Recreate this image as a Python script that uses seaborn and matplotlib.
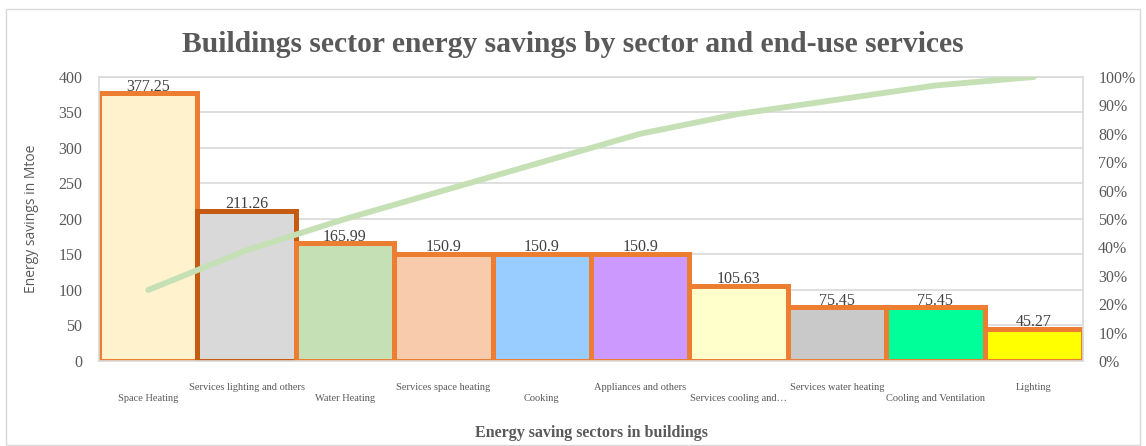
import numpy as np
import pandas as pd
import seaborn as sns
import matplotlib.pyplot as plt
from matplotlib.patches import Rectangle
from matplotlib.ticker import PercentFormatter

sectors = ["Space Heating", "Services lighting and others", "Water Heating",
           "Services space heating", "Cooking", "Appliances and others",
           "Services cooling and\u2026", "Services water heating",
           "Cooling and Ventilation", "Lighting"]
savings = [377.25, 211.26, 165.99, 150.9, 150.9, 150.9, 105.63, 75.45, 75.45, 45.27]
cum_share = [0.25, 0.39, 0.50, 0.60, 0.70, 0.80, 0.87, 0.92, 0.97, 1.00]
fill_colors = ["#FFF2CC", "#D9D9D9", "#C5E0B4", "#F8CBAD", "#99CCFF",
               "#CC99FF", "#FFFFCC", "#C9C9C9", "#00FF99", "#FFFF00"]
edge_colors = ["#ED7D31", "#C55A11", "#ED7D31", "#ED7D31", "#ED7D31",
               "#ED7D31", "#ED7D31", "#ED7D31", "#ED7D31", "#ED7D31"]

df = pd.DataFrame({"sector": sectors, "savings": savings, "cum": cum_share})

sns.set_style("white")
serif = ["Liberation Serif", "DejaVu Serif"]
grey = "#595959"

fig = plt.figure(figsize=(11.46, 4.46), dpi=100)
ax = fig.add_axes([0.0864, 0.1906, 0.8586, 0.6368])

sns.barplot(data=df, x="sector", y="savings", hue="sector", palette=fill_colors,
            legend=False, width=1.0, linewidth=3.6, saturation=1, ax=ax, zorder=2)
for i, cont in enumerate(ax.containers):
    for bar in cont:
        bar.set_edgecolor(edge_colors[i])
    ax.bar_label(cont, labels=[f"{v:g}" for v in cont.datavalues], padding=-1,
                 fontsize=11.5, color="#404040", family=serif)

ax.set_ylim(0, 400)
ax.set_xlim(-0.5, len(sectors) - 0.5)
ax.set_yticks(np.arange(0, 401, 50))
ax.yaxis.grid(True, color="#D9D9D9", linewidth=1.2, zorder=0)
ax.set_axisbelow(True)
for s in ax.spines.values():
    s.set_color("#D9D9D9")
    s.set_linewidth(1.2)

labels = [("\n" + s) if i % 2 == 0 else s for i, s in enumerate(sectors)]
ax.set_xticks(range(len(sectors)))
ax.set_xticklabels(labels, fontsize=7.5, color=grey, family=serif)
ax.tick_params(axis="x", length=0, pad=16)
ax.tick_params(axis="y", length=0, pad=12, labelsize=11.5, labelcolor=grey)
for t in ax.get_yticklabels():
    t.set_family(serif)

ax.set_xlabel("Energy saving sectors in buildings", fontsize=11.5, fontweight="bold",
              color=grey, family=serif, labelpad=16)
ax.set_ylabel("Energy savings in Mtoe", fontsize=10, color=grey,
              family=["Open Sans", "DejaVu Sans"], labelpad=14)

ax2 = ax.twinx()
sns.lineplot(x=np.arange(len(sectors)), y=df["cum"], color="#C5E0B4", linewidth=4.2,
             solid_capstyle="round", ax=ax2, zorder=3)
ax2.set_ylim(0, 1.0)
ax2.set_yticks(np.arange(0, 1.01, 0.1))
ax2.yaxis.set_major_formatter(PercentFormatter(1.0, decimals=0))
ax2.tick_params(axis="y", length=0, pad=11, labelsize=11.5, labelcolor=grey)
for t in ax2.get_yticklabels():
    t.set_family(serif)
ax2.set_ylabel("")
for s in ax2.spines.values():
    s.set_visible(False)

fig.suptitle("Buildings sector energy savings by sector and end-use services",
             fontsize=21.3, fontweight="bold", color=grey, family=serif, y=0.93)

fig.patches.append(Rectangle((6 / 1146, 0.002), 1134 / 1146, 1 - 9 / 446 - 0.002,
                             transform=fig.transFigure, fill=False,
                             edgecolor="#D9D9D9", linewidth=1))

fig.savefig("out.png", dpi=100)
